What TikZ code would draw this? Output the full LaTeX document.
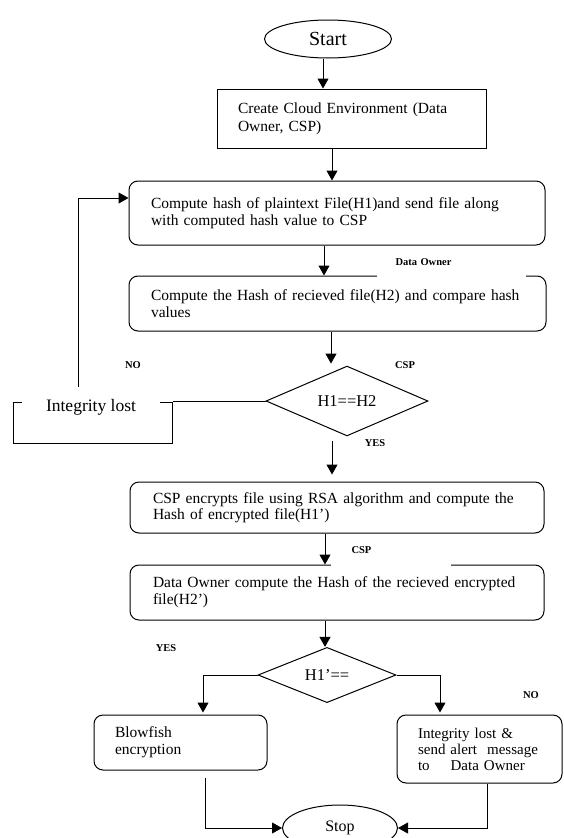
\documentclass[tikz,border=0pt]{standalone}
\usepackage{fontspec}
\setmainfont{Liberation Serif}
\usetikzlibrary{shapes.geometric,arrows.meta}
\begin{document}
\begin{tikzpicture}[x=1pt,y=-1pt,
  line width=1pt,
  arr/.style={-{Triangle[length=10pt,width=11pt]}},
  pbox/.style={draw, rounded corners=9pt, align=left, inner ysep=0pt, font=\fontsize{15.5}{17}\selectfont},
  sbox/.style={draw, align=left, inner ysep=0pt, font=\fontsize{15.5}{18}\selectfont},
  oval/.style={draw, ellipse, inner sep=0pt},
  dia/.style={draw, diamond, inner sep=0pt, font=\fontsize{16.5}{18}\selectfont},
  lbl/.style={font=\fontsize{10.5}{12}\selectfont\bfseries, inner sep=0pt},
  every node/.style={text=black}]
\useasboundingbox[fill=white] (0,0) rectangle (563,838);

% terminals
\node[oval, minimum width=127pt, minimum height=38pt, font=\fontsize{20}{22}\selectfont] (start) at (328,39) {Start};
\node[oval, minimum width=115pt, minimum height=46pt, font=\fontsize{16}{18}\selectfont] (stop) at (340,828) {Stop};

% process boxes
\node[sbox, text width=227pt, inner xsep=21pt, minimum height=59pt] (b1) at (351.5,118.5)
  {Create Cloud Environment (Data\\Owner, CSP)};
\node[pbox, text width=372pt, inner xsep=22pt, minimum height=64pt] (b2) at (337,213)
  {Compute hash of plaintext File(H1)and send file along\\with computed hash value to CSP};
\node[pbox, text width=373pt, inner xsep=22pt, minimum height=55pt] (b3) at (337.5,303.5)
  {Compute the Hash of recieved file(H2) and compare hash\\values};
\node[pbox, text width=368pt, inner xsep=23pt, minimum height=51pt, font=\fontsize{15.5}{16}\selectfont] (b4) at (337,507.5)
  {CSP encrypts file using RSA algorithm and compute the\\Hash of encrypted file(H1’)};
\node[pbox, text width=368pt, inner xsep=23pt, minimum height=55pt] (b5) at (337,592.5)
  {Data Owner compute the Hash of the recieved encrypted\\file(H2’)};
\node[pbox, text width=131pt, inner xsep=21pt, minimum height=55pt] (b6) at (180.5,742.5)
  {Blowfish\\encryption};
\node[pbox, text width=123pt, inner xsep=21pt, minimum height=68pt, font=\fontsize{15}{16}\selectfont] (b7) at (479.5,749)
  {\mbox{Integrity lost \&}\\\mbox{send alert\ \ message}\\\mbox{to\hspace{1.4em}Data Owner}};

% integrity lost (loop) box
\node[draw, minimum width=159pt, minimum height=41pt, inner sep=0pt] (il) at (92.5,422.5) {};
\node[fill=white, minimum width=138pt, minimum height=16pt, inner sep=0pt, font=\fontsize{17.5}{19}\selectfont] (iltext) at (91,407) {Integrity lost};

% decisions
\node[dia, minimum width=162pt, minimum height=44pt] (d1) at (347,401) {H1==H2};
\node[dia, minimum width=138pt, minimum height=44pt] (d2) at (327,675) {H1’==};

% column coordinates
\coordinate (x1) at (323,0);
\coordinate (x2) at (332,0);
\coordinate (x3) at (324,0);
\coordinate (x4) at (331,0);
\coordinate (x5) at (332,0);
\coordinate (x6) at (325,0);
\coordinate (xl) at (203,0);
\coordinate (xr) at (440,0);
\coordinate (xb6) at (205,0);
\coordinate (xb7) at (487,0);
\coordinate (fb) at (78,387);
\coordinate (fbtop) at (78,198);

% connectors
\draw[arr] (start.south -| x1) -- (b1.north -| x1);
\draw[arr] (b1.south -| x2) -- (b2.north -| x2);
\draw[arr] (b2.south -| x3) -- (b3.north -| x3);
\draw[arr, shorten >=2pt] (b3.south -| x4) -- (d1.north -| x4);
\draw[arr, shorten <=5pt, shorten >=7pt] (d1.south -| x5) -- (b4.north -| x5);
\draw[arr] (b4.south -| x6) -- (b5.north -| x6);
\draw[arr] (b5.south -| x6) -- (d2.north -| x6);
\draw[arr, shorten >=2pt] (d2.west) -| (b6.north -| xl);
\draw[arr, shorten >=2pt] (d2.east) -| (b7.north -| xr);
\draw[arr, shorten <=7pt] (b6.south -| xb6) |- (stop.west);
\draw[arr] (b7.south -| xb7) |- (stop.east);
\draw (d1.west) -- (d1.west -| il.east);
\draw[arr] (fb) -- (fbtop) -- (fbtop -| b2.west);

% labels
\node[lbl, fill=white, anchor=west, text width=111pt, inner xsep=19pt, minimum height=31pt, align=left] (lab1) at (376,262) {Data Owner};
\node[lbl, fill=white, anchor=west, text width=78pt, inner xsep=21pt, minimum height=31pt, align=left] (lab2) at (330,550.5) {CSP};
\node[lbl] (lab3) at (405,365) {CSP};
\node[lbl] (lab4) at (133,365) {NO};
\node[lbl] (lab5) at (375,443) {YES};
\node[lbl] (lab6) at (166,648) {YES};
\node[lbl] (lab7) at (531,695) {NO};
\end{tikzpicture}
\end{document}
